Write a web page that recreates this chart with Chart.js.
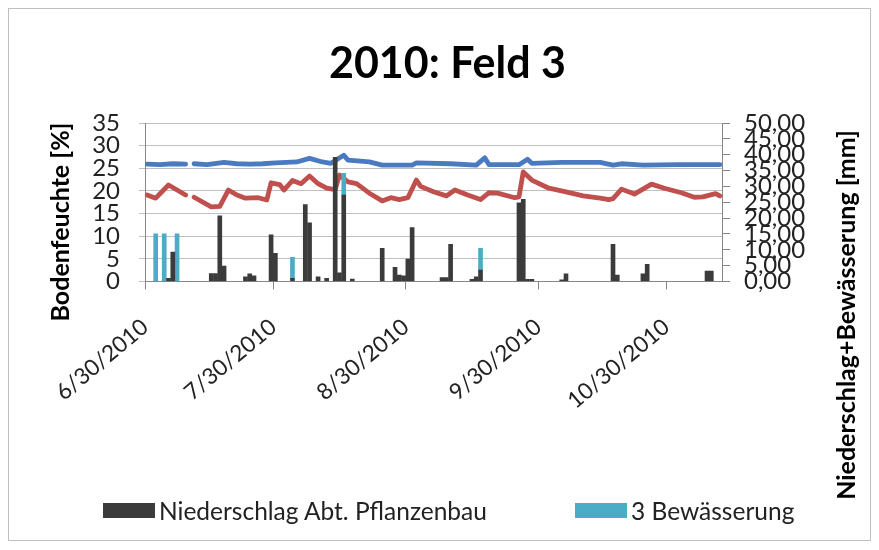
<!DOCTYPE html>
<html><head><meta charset="utf-8">
<script src="https://cdn.jsdelivr.net/npm/chart.js@4"></script>
<style>
html,body{margin:0;padding:0;background:#fff;}
#wrap{position:relative;width:879px;height:550px;overflow:hidden;}
canvas{display:block;}
.lg{position:absolute;top:497px;height:26px;display:flex;align-items:center;font-family:Lato,"Open Sans",sans-serif;font-size:24.5px;color:#222;white-space:nowrap;}
.lg i{display:inline-block;width:52px;height:15px;margin-right:4px;}
</style>
</head><body>
<div id="wrap"><canvas id="c" width="879" height="550"></canvas>
<div class="lg" id="lg1" style="left:103px"></div>
<div class="lg" id="lg2" style="left:575px"></div>
</div>
<script>
// ---- data ----
const chartTitle = '2010: Feld 3';
const leftTitle = 'Bodenfeuchte [%]';
const rightTitle = 'Niederschlag+Bewässerung [mm]';
const xTickLabels = ['6/30/2010','7/30/2010','8/30/2010','9/30/2010','10/30/2010'];
const firstDay = '6/30/2010';
const lastDay = '11/11/2010';

const rainLabel = 'Niederschlag Abt. Pflanzenbau';
const rainDates = ['7/5/2010','7/6/2010','7/15/2010','7/16/2010','7/17/2010','7/18/2010','7/23/2010','7/24/2010','7/25/2010','7/29/2010','7/30/2010','8/3/2010','8/6/2010','8/7/2010','8/9/2010','8/11/2010','8/13/2010','8/14/2010','8/15/2010','8/17/2010','8/24/2010','8/27/2010','8/28/2010','8/29/2010','8/30/2010','8/31/2010','9/7/2010','9/8/2010','9/9/2010','9/14/2010','9/15/2010','9/16/2010','9/25/2010','9/26/2010','9/27/2010','9/28/2010','10/5/2010','10/6/2010','10/17/2010','10/18/2010','10/24/2010','10/25/2010','11/8/2010','11/9/2010'];
const rainValues = [1.0,9.3,2.5,2.5,20.7,4.9,1.5,2.4,1.8,14.7,8.9,1.0,24.3,18.5,1.5,1.0,39.2,2.7,27.3,0.8,10.5,4.5,2.0,1.8,7.1,17.0,1.2,1.2,11.7,0.7,1.5,3.6,24.8,25.9,0.7,0.7,0.5,2.4,11.7,2.0,2.4,5.4,3.3,3.3];

const irrLabel = '3 Bewässerung';
const irrDates = ['7/2/2010','7/4/2010','7/7/2010','8/3/2010','8/15/2010','9/16/2010'];
const irrValues = [15,15,15,6.6,6.8,6.9];

const blueLabel = 'Bodenfeuchte 1';
const blueDates = ['6/30/2010','7/3/2010','7/6/2010','7/9/2010','7/10/2010','7/11/2010','7/14/2010','7/18/2010','7/21/2010','7/24/2010','7/27/2010','7/30/2010','8/4/2010','8/7/2010','8/10/2010','8/12/2010','8/15/2010','8/16/2010','8/21/2010','8/24/2010','8/31/2010','9/1/2010','9/9/2010','9/15/2010','9/17/2010','9/18/2010','9/25/2010','9/27/2010','9/28/2010','10/5/2010','10/14/2010','10/17/2010','10/19/2010','10/24/2010','11/1/2010','11/11/2010'];
const blueValues = [25.9,25.8,26.0,25.9,null,26.0,25.8,26.3,26.0,25.9,26.0,26.2,26.4,27.2,26.4,26.1,27.9,26.8,26.4,25.7,25.7,26.2,26.0,25.7,27.3,25.8,25.8,27.0,26.1,26.3,26.3,25.7,26.0,25.7,25.8,25.8];

const redLabel = 'Bodenfeuchte 2';
const redDates = ['6/30/2010','7/2/2010','7/5/2010','7/7/2010','7/9/2010','7/10/2010','7/11/2010','7/15/2010','7/17/2010','7/19/2010','7/21/2010','7/23/2010','7/26/2010','7/28/2010','7/29/2010','7/31/2010','8/1/2010','8/3/2010','8/5/2010','8/7/2010','8/9/2010','8/11/2010','8/13/2010','8/14/2010','8/16/2010','8/18/2010','8/21/2010','8/24/2010','8/26/2010','8/28/2010','8/30/2010','9/1/2010','9/2/2010','9/5/2010','9/8/2010','9/10/2010','9/13/2010','9/16/2010','9/18/2010','9/20/2010','9/24/2010','9/25/2010','9/26/2010','9/28/2010','10/2/2010','10/6/2010','10/10/2010','10/14/2010','10/16/2010','10/17/2010','10/19/2010','10/22/2010','10/26/2010','10/29/2010','11/2/2010','11/5/2010','11/7/2010','11/10/2010','11/11/2010'];
const redValues = [19.1,18.4,21.3,20.2,19.1,null,18.6,16.5,16.6,20.2,19.1,18.4,18.5,18.0,21.8,21.4,20.2,22.3,21.6,23.3,21.6,20.6,20.3,23.5,22.0,21.6,19.5,17.8,18.5,18.1,18.5,22.4,21.0,19.8,18.9,20.2,19.1,18.1,19.6,19.5,18.5,18.7,24.2,22.4,20.6,19.8,18.9,18.4,18.1,18.3,20.4,19.3,21.5,20.6,19.6,18.6,18.7,19.4,18.9];

const leftMin = 0, leftMax = 35, leftStep = 5;
const rightMin = 0, rightMax = 50, rightStep = 5;

// ---- helpers ----
const BASE = Date.UTC(2010, 5, 30);
function dayIndex(s){ const [m,d,y] = s.split('/').map(Number); return Math.round((Date.UTC(y,m-1,d)-BASE)/86400000); }
function pts(dates, vals){ return dates.map((d,i)=>({x: dayIndex(d)+0.5, y: vals[i]})); }
function fmtDate(v){ const dt = new Date(BASE + Math.round(v)*86400000); return (dt.getUTCMonth()+1)+'/'+dt.getUTCDate()+'/'+dt.getUTCFullYear(); }

const FONT = 'Lato, "Open Sans", sans-serif';
const C_RAIN = '#3B3B3B', C_IRR = '#4BACC6', C_BLUE = '#4A7BC0', C_RED = '#C0504D';
const PAD_L = 16;

const frame = {
  id: 'frame',
  beforeDraw(chart){
    const ctx = chart.ctx; ctx.save();
    ctx.fillStyle = '#fff'; ctx.fillRect(0,0,chart.width,chart.height);
    ctx.strokeStyle = '#BFBFBF'; ctx.lineWidth = 1;
    ctx.strokeRect(8.5, 8.5, 862, 532);
    ctx.restore();
  },
  afterDraw(chart){
    const ctx = chart.ctx; ctx.save();
    ctx.fillStyle = '#000'; ctx.font = 'bold 25px ' + FONT;
    ctx.textAlign = 'center'; ctx.textBaseline = 'middle';
    ctx.translate(61, 222); ctx.rotate(-Math.PI/2); ctx.fillText(leftTitle, 0, 0);
    ctx.restore(); ctx.save();
    ctx.fillStyle = '#000'; ctx.font = 'bold 25px ' + FONT;
    ctx.textAlign = 'center'; ctx.textBaseline = 'middle';
    ctx.translate(847, 315); ctx.rotate(-Math.PI/2); ctx.fillText(rightTitle, 0, 0);
    ctx.restore();
  }
};

const chart = new Chart(document.getElementById('c'), {
  data: {
    datasets: [
      {type:'bar', label: rainLabel, data: pts(rainDates, rainValues), backgroundColor: C_RAIN, yAxisID:'y2', barThickness: 4, stack:'s'},
      {type:'bar', label: irrLabel, data: pts(irrDates, irrValues), backgroundColor: C_IRR, yAxisID:'y2', barThickness: 4, stack:'s'},
      {type:'line', label: blueLabel, data: pts(blueDates, blueValues), borderColor: C_BLUE, borderWidth: 4.8, pointRadius: 0, yAxisID:'y', spanGaps:false, borderJoinStyle:'round', borderCapStyle:'round'},
      {type:'line', label: redLabel, data: pts(redDates, redValues), borderColor: C_RED, borderWidth: 4.8, pointRadius: 0, yAxisID:'y', spanGaps:false, borderJoinStyle:'round', borderCapStyle:'round'}
    ]
  },
  options: {
    responsive: false, animation: false, devicePixelRatio: 1,
    layout: {padding: {left: PAD_L, right: 0, top: 10, bottom: 0}},
    plugins: {
      legend: {display: false}, tooltip: {enabled: false},
      title: {display: true, text: chartTitle, color: '#000', font: {family: FONT, size: 43, weight: 'bold', lineHeight: 1.2}, padding: {top: 28, bottom: 33.4}}
    },
    scales: {
      x: {
        type: 'linear', offset: false, min: dayIndex(firstDay), max: dayIndex(lastDay)+1, stacked: true,
        afterBuildTicks: (s) => { s.ticks = xTickLabels.map(l => ({value: dayIndex(l)})); },
        afterFit: (s) => { s.height = 550 - 281.5; },
        ticks: {autoSkip: false, minRotation: 40, maxRotation: 40, color: '#222', font: {family: FONT, size: 22.5}, padding: 24, callback: (v) => fmtDate(v)},
        grid: {offset: false, drawOnChartArea: false, tickLength: 8, color: '#868686'},
        border: {color: '#868686'}
      },
      y: {
        position: 'left', min: leftMin, max: leftMax,
        afterFit: (s) => { s.width = 145 - PAD_L; },
        ticks: {stepSize: leftStep, autoSkip: false, color: '#222', font: {family: FONT, size: 24}, padding: 19},
        grid: {color: '#BFBFBF', tickLength: 6},
        border: {color: '#868686'}
      },
      y2: {
        position: 'right', min: rightMin, max: rightMax, stacked: true,
        afterFit: (s) => { s.width = 879 - 722; },
        ticks: {stepSize: rightStep, autoSkip: false, color: '#222', font: {family: FONT, size: 24}, padding: 14, callback: (v) => v.toFixed(2).replace('.', ',')},
        grid: {drawOnChartArea: false, tickLength: 8, color: '#868686'},
        border: {color: '#868686'}
      }
    }
  },
  plugins: [frame]
});

// HTML legend built from the chart's bar datasets
[['lg1',0],['lg2',1]].forEach(([id, i]) => {
  const ds = chart.data.datasets[i];
  const el = document.getElementById(id);
  const sw = document.createElement('i'); sw.style.background = ds.backgroundColor;
  const tx = document.createElement('span'); tx.textContent = ds.label;
  el.appendChild(sw); el.appendChild(tx);
});
</script>
</body></html>
